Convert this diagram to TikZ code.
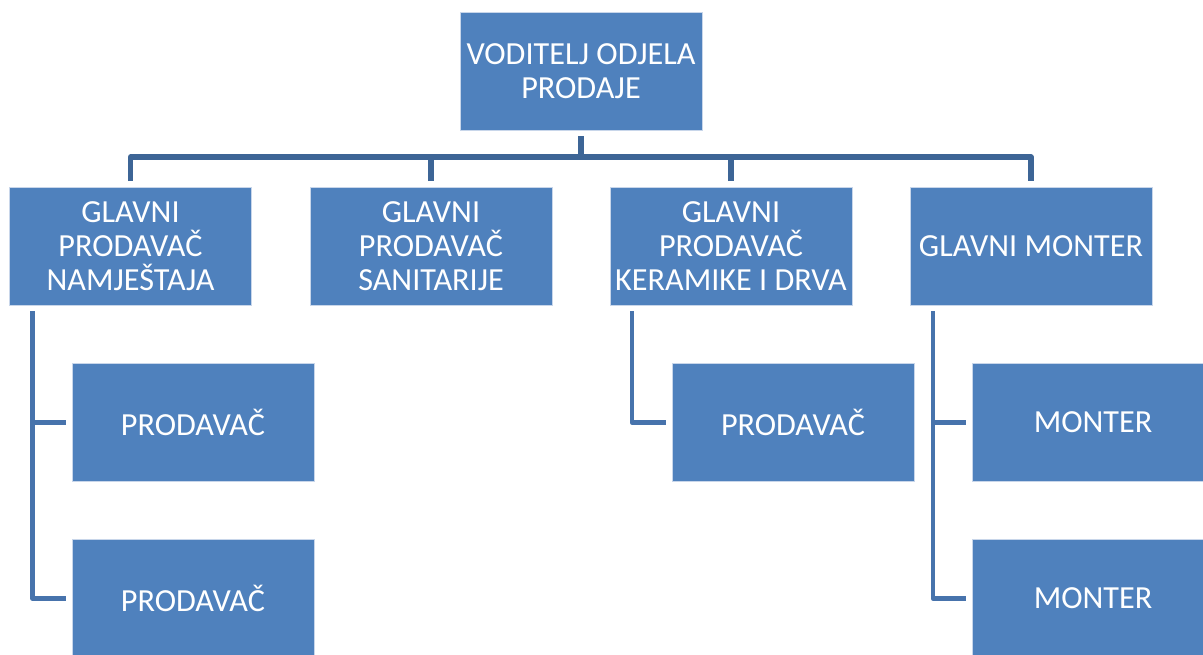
\documentclass[tikz,border=0pt]{standalone}
\usepackage{fontspec}
\setmainfont{Carlito}
\usepackage{tikz}
\usetikzlibrary{positioning}
\definecolor{Blau}{HTML}{4F81BD}
\definecolor{Rand}{HTML}{C8D6EA}
\definecolor{Bus}{HTML}{3D6596}
\definecolor{Ast}{HTML}{4773AC}
\tikzset{
  Kasten/.style={fill=Blau, draw=Rand, line width=.4pt, text=white,
    minimum width=121pt, minimum height=59pt,
    align=center, inner sep=0pt, outer sep=3pt,
    font=\fontsize{16.1}{17}\selectfont}, % für die Kästen
  Linie/.style={line width=#1, line join=round}, % für Leiterbahnen
  BLinie/.style={Bus, Linie=2.6pt}, % obere Ebene
  ALinie/.style={Ast, Linie=2.3pt}  % untere Ebene
}
\begin{document}
\begin{tikzpicture}[x=.5pt, y=-.5pt]
\useasboundingbox (0,0) rectangle (1203,654);

%Kästen
\node[Kasten] (VOD) at (581,71) {VODITELJ ODJELA\\PRODAJE};

\node[Kasten] (GPN) at (130.5,246) {GLAVNI\\PRODAVAČ\\NAMJEŠTAJA};
\node[Kasten] (GPS) at (431,246) {GLAVNI\\PRODAVAČ\\SANITARIJE};
\node[Kasten] (GPK) at (731,246) {GLAVNI\\PRODAVAČ\\KERAMIKE I DRVA};
\node[Kasten] (GM)  at (1031,246) {GLAVNI MONTER};

\node[Kasten] (PN1) at (193,422.5) {PRODAVAČ};
\node[Kasten] (PN2) at (193,598.5) {PRODAVAČ};
\node[Kasten] (PK1) at (793,422.5) {PRODAVAČ};
\node[Kasten] (M1)  at (1093,422.5) {MONTER};
\node[Kasten] (M2)  at (1093,598.5) {MONTER};

\coordinate (Bus) at (581,157);

%Leiterbahnen
\draw[BLinie] (VOD.south) -- (Bus);
\draw[BLinie] (GPN.north) |- (Bus) -| (GM.north);
\draw[BLinie] (GPS.north) -- (GPS.north |- Bus);
\draw[BLinie] (GPK.north) -- (GPK.north |- Bus);

\draw[ALinie] ([xshift=14.5pt]GPN.south west) |- (PN1.west);
\draw[ALinie] ([xshift=14.5pt]GPN.south west) |- (PN2.west);
\draw[ALinie] ([xshift=14pt]GPK.south west) |- (PK1.west);
\draw[ALinie] ([xshift=14.5pt]GM.south west) |- (M1.west);
\draw[ALinie] ([xshift=14.5pt]GM.south west) |- (M2.west);

\end{tikzpicture}
\end{document}
